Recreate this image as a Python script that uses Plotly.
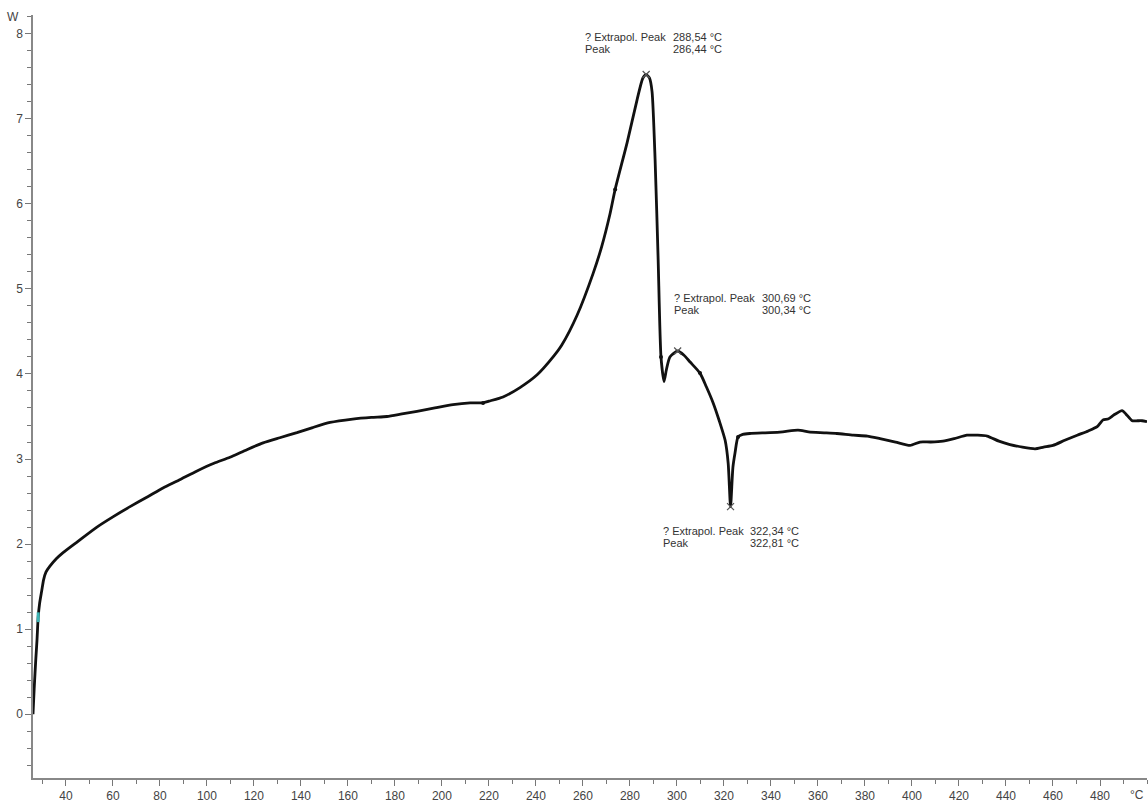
import plotly.graph_objects as go

# DSC curve (temperature in °C, heat flow in W)
temp = [26.0, 26.5, 27.2, 27.7, 28.2, 28.8, 29.7, 30.5, 31.5, 33.2, 36, 38.8, 45, 53.2, 60, 67.3, 75,
        81.3, 88, 95.8, 103, 109.8, 117, 123.9, 131, 138.3, 145, 152.4, 162, 170, 176.6, 183, 189.4,
        197, 204.7, 212, 217.5, 220, 226, 233.2, 240.5, 247.3, 251, 257.5, 264.3, 268, 271.5, 273.7, 278.8,
        283, 285.5, 286.9, 288.3, 289.4, 290.7, 292, 293.2, 294.5, 295.5, 297, 300.3, 303, 305.6,
        309.8, 312.5, 315.4, 318, 320.5, 321.8, 322.8, 323.8, 324.7, 326, 328, 331, 339.6, 345, 351.5,
        356, 360.9, 368, 375, 381, 386.4, 393, 399.2, 403.4, 408, 413.2, 418, 423.4, 428, 432, 437,
        441.7, 447, 452.4, 456, 460, 465, 470.3, 475, 478.8, 481.3, 483.4, 486, 489.4, 491, 493.7,
        496, 497.9, 500]
heat = [0.0, 0.3, 0.65, 0.87, 1.14, 1.3, 1.45, 1.58, 1.67, 1.74, 1.83, 1.9, 2.03, 2.2, 2.32, 2.44, 2.56,
        2.66, 2.75, 2.86, 2.95, 3.02, 3.11, 3.19, 3.25, 3.31, 3.37, 3.43, 3.47, 3.49, 3.5, 3.53, 3.56,
        3.6, 3.64, 3.66, 3.66, 3.68, 3.73, 3.84, 3.99, 4.2, 4.34, 4.69, 5.18, 5.5, 5.88, 6.17, 6.72,
        7.22, 7.48, 7.52, 7.48, 7.32, 6.52, 5.34, 4.2, 3.91, 4.05, 4.2, 4.27, 4.22, 4.14,
        4.01, 3.85, 3.66, 3.45, 3.22, 2.95, 2.44, 2.9, 3.07, 3.26, 3.29, 3.3, 3.31, 3.32, 3.34,
        3.32, 3.31, 3.3, 3.28, 3.27, 3.24, 3.2, 3.16, 3.2, 3.2, 3.21, 3.24, 3.28, 3.28, 3.27, 3.21,
        3.17, 3.14, 3.12, 3.14, 3.16, 3.22, 3.28, 3.33, 3.38, 3.46, 3.47, 3.52, 3.57, 3.53, 3.45,
        3.45, 3.45, 3.44]

# Peak markers (x)
peak_t = [286.9, 300.3, 322.8]
peak_w = [7.52, 4.27, 2.44]

# Small integration limit markers
limit_t = [217.5, 273.7, 293.2, 309.8, 326.0]
limit_w = [3.66, 6.17, 4.2, 4.01, 3.26]

# Start marker (cyan)
start_t = [28.2]
start_w = [1.14]

# Annotation texts
ann_labels = ["? Extrapol. Peak", "Peak"]
ann_values = [["288,54 °C", "286,44 °C"], ["300,69 °C", "300,34 °C"], ["322,34 °C", "322,81 °C"]]
# anchor (label x, value x, first-line y) in data units
ann_pos = [(260.0, 297.5, 7.96), (297.9, 335.4, 4.89), (293.2, 330.3, 2.15)]
line_gap = 0.141

x_ticks = list(range(40, 500, 20))

fig = go.Figure()
fig.add_trace(go.Scatter(x=temp, y=heat, mode="lines",
                         line=dict(color="#111111", width=2.8, shape="spline", smoothing=0.6),
                         hoverinfo="skip", showlegend=False))
fig.add_trace(go.Scatter(x=limit_t, y=limit_w, mode="markers",
                         marker=dict(symbol="circle", size=4, color="#111111"),
                         showlegend=False))
fig.add_trace(go.Scatter(x=peak_t, y=peak_w, mode="markers",
                         marker=dict(symbol="x-thin", size=7, line=dict(color="#555555", width=1.2)),
                         showlegend=False))
fig.add_trace(go.Scatter(x=start_t, y=start_w, mode="markers",
                         marker=dict(symbol="line-ns", size=7, line=dict(color="#3bb3b3", width=3)),
                         showlegend=False))

font_ann = dict(family="Liberation Sans, Arial", size=11, color="#333333")
for (lx, vx, y0), vals in zip(ann_pos, ann_values):
    for i, (lab, val) in enumerate(zip(ann_labels, vals)):
        y = y0 - i * line_gap
        fig.add_annotation(x=lx, y=y, xref="x", yref="y", text=lab, showarrow=False,
                           xanchor="left", yanchor="middle", font=font_ann)
        fig.add_annotation(x=vx, y=y, xref="x", yref="y", text=val, showarrow=False,
                           xanchor="left", yanchor="middle", font=font_ann)

fig.add_annotation(x=-0.018, y=0.997, xref="paper", yref="paper", text="W", showarrow=False,
                   xanchor="center", yanchor="middle",
                   font=dict(family="Liberation Sans, Arial", size=12, color="#444444"))
fig.add_annotation(x=0.991, y=-0.022, xref="paper", yref="paper", text="°C", showarrow=False,
                   xanchor="center", yanchor="middle",
                   font=dict(family="Liberation Sans, Arial", size=12, color="#444444"))

axis_font = dict(family="Liberation Sans, Arial", size=12, color="#444444")
fig.update_xaxes(range=[26, 500], tickvals=x_ticks, ticks="outside", ticklen=6, tickwidth=1.2,
                 tickcolor="#777777", showline=True, linecolor="#888888", linewidth=1.5,
                 showgrid=False, zeroline=False, tickfont=axis_font,
                 minor=dict(tick0=0, dtick=10, ticks="outside", ticklen=4, tickcolor="#777777",
                            tickwidth=1, showgrid=False),
                 automargin=False)
fig.update_yaxes(range=[-0.75, 8.22], tick0=0, dtick=1, ticks="outside", ticklen=6, tickwidth=1.2,
                 tickcolor="#777777", showline=True, linecolor="#888888", linewidth=1.5,
                 showgrid=False, zeroline=False, tickfont=axis_font,
                 minor=dict(tick0=0, dtick=0.2, ticks="outside", ticklen=4, tickcolor="#777777",
                            tickwidth=1, showgrid=False),
                 automargin=False)
fig.update_layout(width=1148, height=803, margin=dict(l=33, r=1, t=15, b=25),
                  paper_bgcolor="white", plot_bgcolor="white", showlegend=False)

fig.write_html("out.html", config={"displayModeBar": False},
               post_script="document.body.style.margin='0';document.body.style.overflow='hidden';")
